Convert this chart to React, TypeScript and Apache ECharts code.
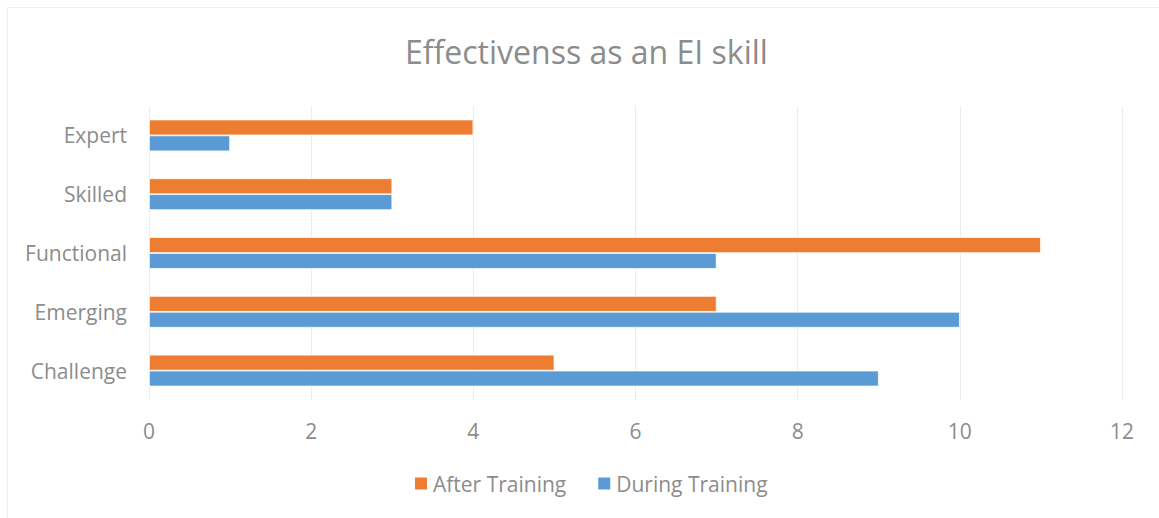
import React, { useEffect, useRef } from "react";
import * as echarts from "echarts";

const categories = ["Challenge", "Emerging", "Functional", "Skilled", "Expert"];
const afterTraining = [5, 7, 11, 3, 4];
const duringTraining = [9, 10, 7, 3, 1];
const seriesNames = ["After Training", "During Training"];
const titleText = "Effectivenss as an EI skill";

const FONT = "'Open Sans', 'Noto Sans', sans-serif";
const TEXT = "#8c8c8c";

export default function App() {
  const ref = useRef<HTMLDivElement>(null);
  useEffect(() => {
    const chart = echarts.init(ref.current!, null, { renderer: "svg" });
    chart.setOption({
      animation: false,
      backgroundColor: "#ffffff",
      title: {
        text: titleText,
        left: 400,
        top: 30,
        textStyle: { fontFamily: FONT, fontSize: 32, fontWeight: "normal", color: TEXT },
      },
      graphic: [
        {
          type: "rect",
          shape: { x: 7.5, y: 7.5, width: 1170, height: 530 },
          style: { fill: "none", stroke: "#efefef", lineWidth: 1 },
          silent: true,
        },
      ],
      legend: {
        data: seriesNames,
        bottom: 19,
        left: 408,
        itemWidth: 14,
        itemHeight: 14,
        itemGap: 30,
        icon: "rect",
        textStyle: { fontFamily: FONT, fontSize: 21, color: TEXT },
      },
      grid: { left: 149, right: 37, top: 106, bottom: 118, containLabel: false },
      xAxis: {
        type: "value",
        min: 0,
        max: 12,
        interval: 2,
        axisLine: { show: false },
        axisTick: { show: false },
        splitLine: { show: true, lineStyle: { color: "#ececec", width: 1 } },
        axisLabel: { fontFamily: FONT, fontSize: 21, color: TEXT, margin: 20 },
      },
      yAxis: {
        type: "category",
        data: categories,
        axisLine: { show: false },
        axisTick: { show: false },
        axisLabel: { fontFamily: FONT, fontSize: 21, color: TEXT, margin: 22 },
      },
      series: [
        {
          name: seriesNames[0],
          type: "bar",
          data: afterTraining,
          itemStyle: { color: "#ED7D31", borderColor: "#ffffff", borderWidth: 0.75 },
          barGap: "0%",
          barCategoryGap: "46%",
        },
        {
          name: seriesNames[1],
          type: "bar",
          data: duringTraining,
          itemStyle: { color: "#5B9BD5", borderColor: "#ffffff", borderWidth: 0.75 },
          barGap: "0%",
          barCategoryGap: "46%",
        },
      ],
    });
    return () => chart.dispose();
  }, []);
  return (
    <div
      ref={ref}
      style={{ position: "fixed", left: 0, top: 0, width: 1159, height: 518 }}
    />
  );
}
